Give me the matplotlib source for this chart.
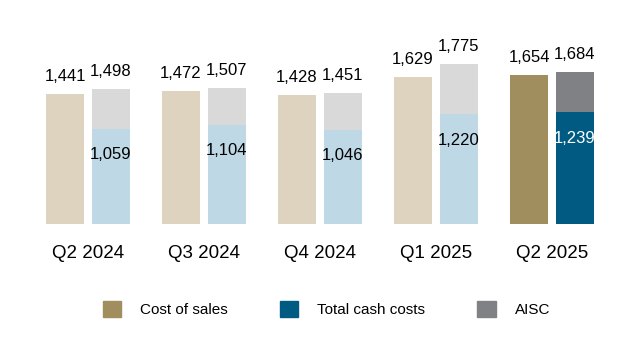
import numpy as np
import matplotlib
matplotlib.use("Agg")
import matplotlib.pyplot as plt
from matplotlib.patches import Patch

plt.rcParams['font.family'] = ['Liberation Sans', 'DejaVu Sans']

quarters = ["Q2 2024", "Q3 2024", "Q4 2024", "Q1 2025", "Q2 2025"]
cost_of_sales = [1441, 1472, 1428, 1629, 1654]
aisc = [1498, 1507, 1451, 1775, 1684]
cash_costs = [1059, 1104, 1046, 1220, 1239]

# faded colours for earlier quarters, full colours for the latest one
cost_col = ["#DDD3BF"] * 4 + ["#A08E5E"]
cash_col = ["#BED8E6"] * 4 + ["#005A82"]
aisc_col = ["#D9D9D9"] * 4 + ["#808184"]
inner_txt = ["black"] * 4 + ["white"]

fig = plt.figure(figsize=(6.4, 3.6), dpi=100)
ax = fig.add_axes([30 / 640, 136 / 360, 580 / 640, 184 / 360])

x = np.arange(len(quarters))
w, off = 0.32, 0.198

ax.bar(x - off, cost_of_sales, w, color=cost_col)
ax.bar(x + off, cash_costs, w, color=cash_col)
ax.bar(x + off, np.array(aisc) - np.array(cash_costs), w, bottom=cash_costs, color=aisc_col)

for i in range(len(quarters)):
    ax.text(x[i] - off, cost_of_sales[i] + 110, f"{cost_of_sales[i]:,}", ha="center",
            va="bottom", fontsize=12)
    ax.text(x[i] + off, aisc[i] + 110, f"{aisc[i]:,}", ha="center", va="bottom", fontsize=12)
    ax.text(x[i] + off, cash_costs[i] - 290, f"{cash_costs[i]:,}", ha="center", va="center",
            fontsize=12, color=inner_txt[i])

ax.set_xlim(-0.5, 4.5)
ax.set_ylim(0, 2042)
ax.set_xticks(x)
ax.set_xticklabels(quarters, fontsize=13.5)
ax.tick_params(axis="x", length=0, pad=15)
ax.set_yticks([])
for s in ax.spines.values():
    s.set_visible(False)

handles = [Patch(color="#A08E5E", label="Cost of sales"),
           Patch(color="#005A82", label="Total cash costs"),
           Patch(color="#808184", label="AISC")]
fig.legend(handles=handles, loc="center", bbox_to_anchor=(0.51, 0.142), ncol=3, frameon=False,
           fontsize=11, handlelength=1.2, handleheight=1.2, handletextpad=1.25,
           columnspacing=3.4, borderpad=0)

fig.savefig("out.png", dpi=100)
